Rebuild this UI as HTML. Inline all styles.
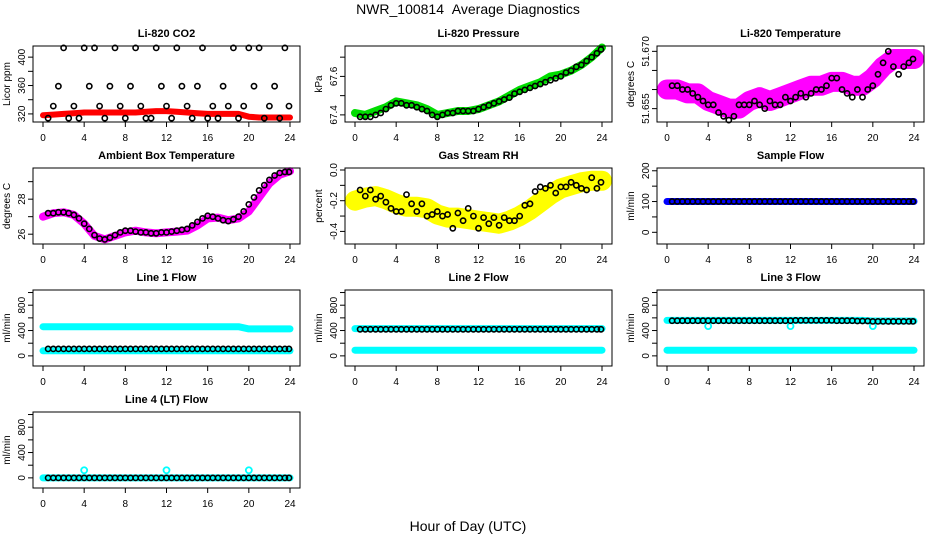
<!DOCTYPE html>
<html><head><meta charset="utf-8">
<style>
html,body{margin:0;padding:0;background:#fff;}
svg{display:block;font-family:"Liberation Sans",sans-serif;}
</style></head>
<body>
<svg id="chart" width="936" height="540" viewBox="0 0 936 540" xmlns="http://www.w3.org/2000/svg">
<text x="468" y="14" text-anchor="middle" font-size="14">NWR_100814&#160;&#160;Average Diagnostics</text>
<text x="468" y="531" text-anchor="middle" font-size="14">Hour of Day (UTC)</text>
</svg>
<script>
// shared x data
const xTicks = [0,4,8,12,16,20,24];
const bandHours = [0,1,2,3,4,5,6,7,8,9,10,11,12,13,14,15,16,17,18,19,20,21,22,23,24];
const blackHours = [0.5,1,1.5,2,2.5,3,3.5,4,4.5,5,5.5,6,6.5,7,7.5,8,8.5,9,9.5,10,10.5,11,11.5,12,12.5,13,13.5,14,14.5,15,15.5,16,16.5,17,17.5,18,18.5,19,19.5,20,20.5,21,21.5,22,22.5,23,23.5,23.9];

// CO2
const co2Band = [318,319,320,321,322,322,322,322,322,322,323,324,324,323,322,321,320,320,320,320,316,315,315,315,315];
const co2Black = [314,331,359,413,314,331,314,413,359,413,331,314,359,413,331,314,359,413,331,314,314,413,359,331,314,413,359,331,314,359,413,314,331,314,359,331,413,314,331,413,359,413,314,331,359,314,413,331];
// Pressure
const presBand = [67.41,67.40,67.42,67.44,67.47,67.46,67.45,67.43,67.40,67.41,67.42,67.42,67.43,67.45,67.47,67.50,67.53,67.55,67.57,67.60,67.61,67.63,67.66,67.70,67.75];
const presBlack = [67.39,67.39,67.39,67.40,67.41,67.43,67.45,67.46,67.46,67.45,67.45,67.44,67.43,67.42,67.40,67.39,67.40,67.41,67.41,67.42,67.42,67.42,67.42,67.43,67.44,67.45,67.46,67.47,67.48,67.49,67.51,67.52,67.53,67.54,67.55,67.56,67.57,67.58,67.59,67.60,67.62,67.63,67.65,67.66,67.68,67.70,67.72,67.74];
// Li-820 temperature
const tempBand = [51.660,51.660,51.659,51.659,51.657,51.656,51.655,51.655,51.657,51.658,51.657,51.658,51.659,51.660,51.661,51.661,51.662,51.662,51.661,51.661,51.663,51.666,51.668,51.668,51.668];
const tempBlack = [51.661,51.661,51.660,51.660,51.659,51.658,51.657,51.656,51.656,51.654,51.653,51.652,51.653,51.656,51.656,51.656,51.657,51.656,51.655,51.657,51.656,51.656,51.658,51.657,51.658,51.659,51.658,51.659,51.660,51.660,51.661,51.663,51.663,51.660,51.659,51.658,51.660,51.658,51.660,51.661,51.664,51.667,51.670,51.666,51.664,51.666,51.667,51.668];
// Ambient box temperature
const ambBand = [27.0,27.2,27.25,27.1,26.6,25.9,25.7,25.9,26.1,26.2,26.1,26.05,26.1,26.15,26.2,26.5,26.9,26.95,26.8,26.9,27.3,28.1,28.9,29.4,29.6];
const ambBlack = [27.2,27.2,27.25,27.25,27.2,27.1,26.9,26.6,26.3,25.95,25.75,25.7,25.8,25.95,26.1,26.2,26.2,26.15,26.1,26.1,26.05,26.05,26.1,26.1,26.15,26.2,26.25,26.3,26.5,26.7,26.9,27.05,27.0,26.9,26.8,26.75,26.85,27.0,27.3,27.7,28.1,28.5,28.8,29.1,29.35,29.5,29.55,29.55];
// Gas stream RH
const rhBand = [-0.20,-0.18,-0.17,-0.19,-0.22,-0.24,-0.24,-0.25,-0.29,-0.31,-0.31,-0.32,-0.33,-0.34,-0.35,-0.33,-0.30,-0.26,-0.21,-0.16,-0.12,-0.10,-0.08,-0.07,-0.07];
const rhBlack = [-0.13,-0.17,-0.13,-0.19,-0.17,-0.21,-0.25,-0.27,-0.27,-0.16,-0.22,-0.27,-0.22,-0.30,-0.29,-0.27,-0.30,-0.29,-0.38,-0.28,-0.33,-0.25,-0.30,-0.38,-0.31,-0.35,-0.31,-0.36,-0.31,-0.33,-0.33,-0.30,-0.23,-0.22,-0.14,-0.11,-0.12,-0.10,-0.15,-0.11,-0.11,-0.08,-0.10,-0.12,-0.13,-0.05,-0.12,-0.08];
// Sample flow
const sampBand = [100,100,100,100,100,100,100,100,100,100,100,100,100,100,100,100,100,100,100,100,100,100,100,100,100];
const sampBlack = [100,100,100,100,100,100,100,100,100,100,100,100,100,100,100,100,100,100,100,100,100,100,100,100,100,100,100,100,100,100,100,100,100,100,100,100,100,100,100,100,100,100,100,100,100,100,100,100];
// Line 1 flow
const l1Upper = [460,460,460,460,460,460,460,460,460,460,460,460,460,460,460,460,460,460,460,460,425,425,425,425,425];
const l1Lower = [80,80,80,80,80,80,80,80,80,80,80,80,80,80,80,80,80,80,80,80,80,80,80,80,80];
const l1Black = [110,110,110,110,110,110,110,110,110,110,110,110,110,110,110,110,110,110,110,110,110,110,110,110,110,110,110,110,110,110,110,110,110,110,110,110,110,110,110,110,110,110,110,110,110,110,110,110];
// Line 2 flow
const l2Upper = [430,430,430,430,430,430,430,430,430,430,430,430,430,430,430,430,430,430,430,430,430,430,430,430,430];
const l2Lower = [90,90,90,90,90,90,90,90,90,90,90,90,90,90,90,90,90,90,90,90,90,90,90,90,90];
const l2Black = [420,420,420,420,420,420,420,420,420,420,420,420,420,420,420,420,420,420,420,420,420,420,420,420,420,420,420,420,420,420,420,420,420,420,420,420,420,420,420,420,420,420,420,420,420,420,420,420];
// Line 3 flow
const l3Upper = [560,560,560,560,560,560,560,560,560,560,560,560,560,560,560,560,560,560,560,560,550,550,550,550,550];
const l3Lower = [90,90,90,90,90,90,90,90,90,90,90,90,90,90,90,90,90,90,90,90,90,90,90,90,90];
const l3Black = [555,555,555,555,555,555,555,555,555,555,555,555,555,555,555,555,555,555,555,555,555,555,555,555,560,560,560,560,560,560,560,560,555,555,555,555,550,550,550,545,545,545,545,545,545,545,545,545];
// Line 4 flow
const l4Band = [0,0,0,0,0,0,0,0,0,0,0,0,0,0,0,0,0,0,0,0,0,0,0,0,0];
const l4Black = [0,0,0,0,0,0,0,0,0,0,0,0,0,0,0,0,0,0,0,0,0,0,0,0,0,0,0,0,0,0,0,0,0,0,0,0,0,0,0,0,0,0,0,0,0,0,0,0];
const outlierHours = [4,12,20];
const l4Outliers = [120,120,120];
const l3Outliers = [470,470,470];

// tick arrays
const co2Ticks=[320,340,360,380,400], co2Labels=[320,360,400];
const presTicks=[67.4,67.5,67.6,67.7], presLabels=["67.4","67.6"], presLabelVals=[67.4,67.6];
const tempTicks=[51.655,51.660,51.665,51.670], tempLabels=["51.655","51.670"], tempLabelVals=[51.655,51.670];
const ambTicks=[26,27,28,29], ambLabels=[26,28];
const rhTicks=[0,-0.1,-0.2,-0.3,-0.4], rhLabels=["0.0","-0.2","-0.4"], rhLabelVals=[0,-0.2,-0.4];
const sampTicks=[0,50,100,150,200], sampLabels=[0,100,200];
const flowTicks=[0,200,400,600,800,1000], flowLabels=[0,400,800];

const NS="http://www.w3.org/2000/svg";
const svg=document.getElementById('chart');
function mk(tag,attrs,parent){const e=document.createElementNS(NS,tag);for(const k in attrs)e.setAttribute(k,attrs[k]);(parent||svg).appendChild(e);return e;}

const colX=[33,345,657], rowY=[46,168,290,412], W=267, H=76;

function panel(o){
  const x0=colX[o.col], y0=rowY[o.row];
  const g=mk('g',{});
  
  
  const xs=h=>x0+10+h*(247/24);
  const ys=v=>y0+H-(v-o.lo)/(o.hi-o.lo)*H;
  o.bands.forEach((b,bi)=>{
    const pts=bandHours.map((h,i)=>xs(h).toFixed(1)+','+ys(b.vals[i]).toFixed(1)).join(' ');
    const pl=mk('polyline',{points:pts,fill:'none',stroke:b.color,'stroke-width':b.w,'stroke-linecap':'round','stroke-linejoin':'round'},g);
    
    
  });
  if(o.outliers){o.outliers.forEach((v,i)=>{
    const c=mk('circle',{cx:xs(outlierHours[i]),cy:ys(v),r:3,fill:'none',stroke:o.outColor,'stroke-width':1.8},g);
    
    
  });}
  o.black.forEach((v,i)=>{
    const c=mk('circle',{cx:xs(blackHours[i]).toFixed(1),cy:ys(v).toFixed(1),r:2.6,fill:'none',stroke:'#000','stroke-width':1.6},g);
    
    
  });
  const box=mk('rect',{x:x0,y:y0,width:W,height:H,fill:'none',stroke:'#000','stroke-width':1},g);
  
  
  mk('line',{x1:xs(0),x2:xs(24),y1:y0+H,y2:y0+H,stroke:'#000'},g);
  xTicks.forEach(t=>{
    mk('line',{x1:xs(t),x2:xs(t),y1:y0+H,y2:y0+H+5,stroke:'#000'},g);
    const tx=mk('text',{x:xs(t),y:y0+H+19,'text-anchor':'middle','font-size':10},g);
    tx.textContent=t;
    
    
  });
  o.ticks.forEach(t=>{mk('line',{x1:x0-5,x2:x0,y1:ys(t),y2:ys(t),stroke:'#000'},g);});
  o.labelVals.forEach((v,i)=>{
    const yy=ys(v), xx=x0-8;
    const tx=mk('text',{x:xx,y:yy,'text-anchor':'middle','font-size':10,transform:`rotate(-90 ${xx} ${yy})`},g);
    tx.textContent=o.labels[i];
    
    
  });
  const yl=mk('text',{x:x0-23,y:y0+H/2,'text-anchor':'middle','font-size':10,transform:`rotate(-90 ${x0-23} ${y0+H/2})`},g);
  yl.textContent=o.ylab;
  
  
  const ti=mk('text',{x:x0+W/2,y:y0-9,'text-anchor':'middle','font-size':11,'font-weight':'bold'},g);
  ti.textContent=o.title;
  
  
}

panel({name:'co2',row:0,col:0,lo:308.6,hi:415.7,title:'Li-820 CO2',ylab:'Licor ppm',ticks:co2Ticks,labels:co2Labels,labelVals:co2Labels,bands:[{vals:co2Band,color:'#ff0000',w:6}],black:co2Black});
panel({name:'pressure',row:0,col:1,lo:67.363,hi:67.758,title:'Li-820 Pressure',ylab:'kPa',ticks:presTicks,labels:presLabels,labelVals:presLabelVals,bands:[{vals:presBand,color:'#00dd00',w:8}],black:presBlack});
panel({name:'li820-temperature',row:0,col:2,lo:51.6515,hi:51.6714,title:'Li-820 Temperature',ylab:'degrees C',ticks:tempTicks,labels:tempLabels,labelVals:tempLabelVals,bands:[{vals:tempBand,color:'#ff00ff',w:20}],black:tempBlack});
panel({name:'ambient-temperature',row:1,col:0,lo:25.44,hi:29.78,title:'Ambient Box Temperature',ylab:'degrees C',ticks:ambTicks,labels:ambLabels,labelVals:ambLabels,bands:[{vals:ambBand,color:'#ff00ff',w:8}],black:ambBlack});
panel({name:'gas-rh',row:1,col:1,lo:-0.482,hi:0.013,title:'Gas Stream RH',ylab:'percent',ticks:rhTicks,labels:rhLabels,labelVals:rhLabelVals,bands:[{vals:rhBand,color:'#ffff00',w:20}],black:rhBlack});
panel({name:'sample-flow',row:1,col:2,lo:-38,hi:209,title:'Sample Flow',ylab:'ml/min',ticks:sampTicks,labels:sampLabels,labelVals:sampLabels,bands:[{vals:sampBand,color:'#0000ff',w:7}],black:sampBlack});
panel({name:'line1-flow',row:2,col:0,lo:-160,hi:1040,title:'Line 1 Flow',ylab:'ml/min',ticks:flowTicks,labels:flowLabels,labelVals:flowLabels,bands:[{vals:l1Upper,color:'#00ffff',w:7},{vals:l1Lower,color:'#00ffff',w:7}],black:l1Black});
panel({name:'line2-flow',row:2,col:1,lo:-160,hi:1040,title:'Line 2 Flow',ylab:'ml/min',ticks:flowTicks,labels:flowLabels,labelVals:flowLabels,bands:[{vals:l2Upper,color:'#00ffff',w:7},{vals:l2Lower,color:'#00ffff',w:7}],black:l2Black});
panel({name:'line3-flow',row:2,col:2,lo:-160,hi:1040,title:'Line 3 Flow',ylab:'ml/min',ticks:flowTicks,labels:flowLabels,labelVals:flowLabels,bands:[{vals:l3Upper,color:'#00ffff',w:7},{vals:l3Lower,color:'#00ffff',w:7}],black:l3Black,outliers:l3Outliers,outColor:'#00ffff'});
panel({name:'line4-flow',row:3,col:0,lo:-160,hi:1040,title:'Line 4 (LT) Flow',ylab:'ml/min',ticks:flowTicks,labels:flowLabels,labelVals:flowLabels,bands:[{vals:l4Band,color:'#00ffff',w:7}],black:l4Black,outliers:l4Outliers,outColor:'#00ffff'});
</script>
</body></html>
